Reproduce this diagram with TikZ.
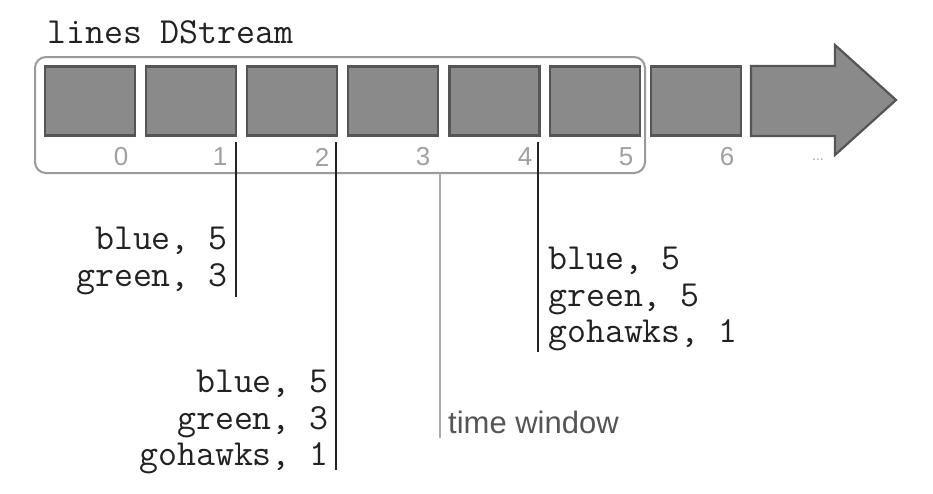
\documentclass[tikz,border=0pt]{standalone}
\usepackage{fontspec}
\setmainfont{Liberation Sans}
\begin{document}
\begin{tikzpicture}[x=1pt,y=-1pt,
  cell/.style={draw=boxedge,fill=boxfill,line width=2.2pt,minimum width=90pt,minimum height=69pt,inner sep=0pt},
  idx/.style={text=idxgray,font=\fontsize{26}{28}\selectfont,inner sep=0pt},
  kv/.style={font=\ttfamily\fontsize{36.8}{36.5}\selectfont,text=txtdark,inner sep=0pt},
  mark line/.style={draw=txtdark,line width=2pt},
  win line/.style={draw=wingray,line width=2pt}]
\definecolor{boxfill}{HTML}{8A8A8A}
\definecolor{boxedge}{HTML}{555555}
\definecolor{idxgray}{HTML}{A0A0A0}
\definecolor{framegray}{HTML}{9A9A9A}
\definecolor{txtdark}{HTML}{222222}
\definecolor{wingray}{HTML}{AAAAAA}
\definecolor{wintxt}{HTML}{555555}
\useasboundingbox (0,0) rectangle (933,493);
% title
\node[kv,anchor=west] (title) at (47,32) {lines DStream};
% window frame
\draw[framegray,line width=2pt,rounded corners=11pt] (35,57) rectangle (645,173);
% cells
\foreach \i/\x in {0/90,1/191,2/292,3/393,4/494.5,5/595,6/696}{
  \node[cell] (b\i) at (\x,101) {};
}
% arrow
\draw[draw=boxedge,fill=boxfill,line width=2.2pt,line join=miter]
  (751,66) -- (835,66) -- (835,45) -- (896,100) -- (835,155) -- (835,136) -- (751,136) -- cycle;
% indices
\foreach \i/\x in {0/121,1/220,2/322,3/423,4/525,5/626,6/727}{
  \node[idx] (n\i) at (\x,157) {\i};
}
\node[idx,font=\fontsize{14}{16}\selectfont] (dots) at (818,160) {...};
% marker lines
\coordinate (l1t) at (236,142); \coordinate (l1b) at (236,297);
\coordinate (l2t) at (336,142); \coordinate (l2b) at (336,470);
\coordinate (l3t) at (440,173); \coordinate (l3b) at (440,438);
\coordinate (l4t) at (538,142); \coordinate (l4b) at (538,352);
\draw[mark line] (l1t) -- (l1b);
\draw[mark line] (l2t) -- (l2b);
\draw[win line] (l3t) -- (l3b);
\draw[mark line] (l4t) -- (l4b);
% labels
\node[kv,anchor=east,align=right] (g1) at (228,261) {blue, 5\\green, 3};
\node[kv,anchor=east,align=right] (g2) at (329,422) {blue, 5\\green, 3\\gohawks, 1};
\node[kv,anchor=west,align=left] (g4) at (548,299) {blue, 5\\green, 5\\gohawks, 1};
\node[text=wintxt,font=\fontsize{31}{34}\selectfont,anchor=west,inner sep=0pt] (tw) at (448,422) {time window};
\end{tikzpicture}
\end{document}
